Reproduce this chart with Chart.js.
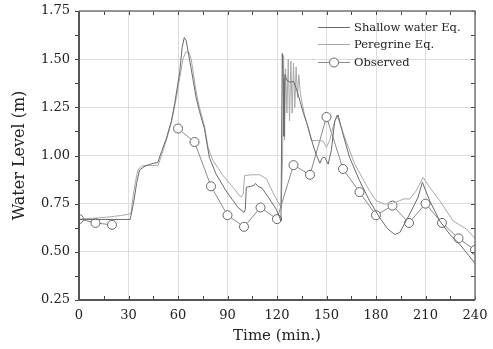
<!DOCTYPE html>
<html lang="en">
<head>
<meta charset="UTF-8" />
<title>Water Level</title>
<script src="https://cdn.jsdelivr.net/npm/chart.js"></script>
<style>
  html, body { margin: 0; padding: 0; background: #fff; }
  #wrap { width: 493px; height: 349px; position: relative; }
</style>
</head>
<body>
<div id="wrap"><canvas id="chart"></canvas></div>
<script>
// time (min.) and water level (m)
const shallowTime = [0, 10, 20, 31, 33, 35, 36.7, 40, 45, 47.7, 50, 53, 56, 58, 61, 62.5, 63.8, 65, 66.5, 68, 71, 73, 76, 79, 83, 89, 93, 96.4, 100, 100.8, 101.4, 104, 106, 107, 108.5, 111, 115, 119.6, 122.4, 123.2, 123.7, 124.2, 124.8, 126, 128, 130, 132, 134, 136, 138, 140, 142, 144, 146, 147.5, 149, 151, 153, 155, 157, 160, 164, 170, 176, 182, 187, 191.3, 194.4, 200.4, 205.5, 208.1, 212.5, 218.6, 224.6, 230.7, 240];
const shallowLevel = [0.668, 0.668, 0.668, 0.668, 0.75, 0.86, 0.925, 0.945, 0.96, 0.963, 1.02, 1.09, 1.18, 1.27, 1.43, 1.56, 1.612, 1.595, 1.52, 1.45, 1.30, 1.23, 1.14, 0.99, 0.905, 0.818, 0.77, 0.73, 0.705, 0.72, 0.835, 0.84, 0.845, 0.855, 0.84, 0.83, 0.78, 0.72, 0.66, 1.53, 1.40, 1.10, 1.42, 1.39, 1.38, 1.385, 1.34, 1.28, 1.22, 1.17, 1.11, 1.05, 1.0, 0.96, 0.99, 0.99, 0.955, 1.03, 1.18, 1.21, 1.11, 0.99, 0.87, 0.766, 0.68, 0.62, 0.59, 0.60, 0.696, 0.783, 0.861, 0.766, 0.661, 0.592, 0.54, 0.44];

const peregrineTime = [0, 10, 17, 25, 30, 31.5, 33, 35, 36, 38, 42, 46, 48, 50, 53, 56, 59, 61, 63, 64.7, 66.7, 68, 71, 73, 76.2, 78.2, 81.2, 87.3, 93.3, 97.4, 98.4, 99.5, 100.4, 105, 109.5, 113.6, 118, 122.5, 123.4, 124, 124.6, 125.2, 126, 126.8, 127.6, 128.4, 129.2, 130, 130.8, 131.6, 132.4, 133.2, 134.2, 135.5, 137, 139, 140.8, 144, 147.9, 150, 152, 154, 156.4, 158, 161, 167, 172, 176, 180, 185, 190, 194.4, 197, 200.4, 204.5, 208.5, 212.5, 218.6, 226.7, 234.8, 240];
const peregrineLevel = [0.67, 0.675, 0.68, 0.688, 0.695, 0.70, 0.80, 0.90, 0.93, 0.945, 0.95, 0.948, 0.95, 1.0, 1.08, 1.17, 1.30, 1.40, 1.50, 1.538, 1.535, 1.50, 1.33, 1.25, 1.147, 1.043, 0.974, 0.896, 0.835, 0.79, 0.786, 0.80, 0.896, 0.90, 0.90, 0.879, 0.80, 0.73, 1.0, 1.52, 1.08, 1.45, 1.22, 1.50, 1.18, 1.49, 1.22, 1.48, 1.25, 1.46, 1.30, 1.42, 1.32, 1.26, 1.20, 1.14, 1.078, 1.078, 1.075, 1.043, 1.08, 1.15, 1.21, 1.17, 1.095, 0.957, 0.879, 0.818, 0.766, 0.748, 0.75, 0.766, 0.775, 0.774, 0.818, 0.887, 0.835, 0.766, 0.661, 0.618, 0.57];

const observedTime = [0, 10, 20, 30, 40, 50, 60, 70, 80, 90, 100, 110, 120, 130, 140, 150, 160, 170, 180, 190, 200, 210, 220, 230, 240];
const observedLevel = [0.67, 0.65, 0.64, null, null, null, 1.14, 1.07, 0.84, 0.69, 0.63, 0.73, 0.67, 0.95, 0.90, 1.20, 0.93, 0.81, 0.69, 0.74, 0.65, 0.75, 0.65, 0.57, 0.51];

const seriesNames = ['Shallow water Eq.', 'Peregrine Eq.', 'Observed'];
const xTicks = [0, 30, 60, 90, 120, 150, 180, 210, 240];
const yTicks = [0.25, 0.50, 0.75, 1.00, 1.25, 1.50, 1.75];

const FONT = '"DejaVu Serif", "Liberation Serif", serif';

function toPoints(t, v) {
  return t.map((x, i) => ({ x: x, y: v[i] }));
}

// frame, minor ticks and legend like the original figure
const framePlugin = {
  id: 'frame',
  afterDraw(chart) {
    const { ctx, chartArea: a, scales } = chart;
    const xs = scales.x, ys = scales.y;
    ctx.save();
    // ticks
    ctx.strokeStyle = '#444';
    ctx.lineWidth = 1;
    for (let t = 0; t <= 240; t += 15) {
      const px = Math.round(xs.getPixelForValue(t)) + 0.5;
      ctx.beginPath(); ctx.moveTo(px, a.top); ctx.lineTo(px, a.top + 4); ctx.stroke();
      ctx.beginPath(); ctx.moveTo(px, a.bottom); ctx.lineTo(px, a.bottom - 4); ctx.stroke();
    }
    for (let v = 0.25; v <= 1.7501; v += 0.125) {
      const py = Math.round(ys.getPixelForValue(v)) + 0.5;
      ctx.beginPath(); ctx.moveTo(a.left, py); ctx.lineTo(a.left - 4, py); ctx.stroke();
      ctx.beginPath(); ctx.moveTo(a.right, py); ctx.lineTo(a.right - 4, py); ctx.stroke();
    }
    // frame
    ctx.strokeStyle = '#777';
    ctx.lineWidth = 1.5;
    ctx.beginPath();
    ctx.moveTo(a.left, a.top); ctx.lineTo(a.right, a.top); ctx.lineTo(a.right, a.bottom);
    ctx.stroke();
    ctx.strokeStyle = '#555';
    ctx.lineWidth = 2;
    ctx.beginPath();
    ctx.moveTo(a.left, a.top); ctx.lineTo(a.left, a.bottom); ctx.lineTo(a.right, a.bottom);
    ctx.stroke();

    // legend
    const lx = 318, tx = 354, rows = [27, 44, 62];
    ctx.font = '11.5px ' + FONT;
    ctx.textBaseline = 'middle';
    ctx.fillStyle = '#222';
    chart.data.datasets.forEach((ds, i) => {
      const y = rows[i];
      ctx.strokeStyle = ds.borderColor;
      ctx.lineWidth = 1;
      ctx.beginPath(); ctx.moveTo(lx, y + 0.5); ctx.lineTo(lx + 32, y + 0.5); ctx.stroke();
      if (ds.pointRadius > 0) {
        ctx.beginPath();
        ctx.arc(lx + 16, y + 0.5, ds.pointRadius, 0, Math.PI * 2);
        ctx.fillStyle = '#fff'; ctx.fill();
        ctx.strokeStyle = ds.pointBorderColor; ctx.stroke();
        ctx.fillStyle = '#222';
      }
      ctx.fillText(ds.label, tx, y + 1);
    });
    ctx.restore();
  }
};

const ctx = document.getElementById('chart').getContext('2d');
new Chart(ctx, {
  type: 'line',
  data: {
    datasets: [
      {
        label: seriesNames[0],
        data: toPoints(shallowTime, shallowLevel),
        borderColor: '#6a6a6a',
        borderWidth: 1,
        pointRadius: 0,
        tension: 0
      },
      {
        label: seriesNames[1],
        data: toPoints(peregrineTime, peregrineLevel),
        borderColor: '#a8a8a8',
        borderWidth: 1,
        pointRadius: 0,
        tension: 0
      },
      {
        label: seriesNames[2],
        data: toPoints(observedTime, observedLevel),
        borderColor: '#8a8a8a',
        borderWidth: 1,
        pointRadius: 4.5,
        pointBackgroundColor: '#fff',
        pointBorderColor: '#666',
        pointBorderWidth: 1,
        spanGaps: false,
        tension: 0
      }
    ]
  },
  options: {
    responsive: true,
    maintainAspectRatio: false,
    animation: false,
    layout: { padding: { top: 11, right: 18, left: 8, bottom: 0 } },
    plugins: { legend: { display: false }, tooltip: { enabled: false } },
    scales: {
      x: {
        type: 'linear',
        min: 0, max: 240,
        afterBuildTicks: s => { s.ticks = xTicks.map(v => ({ value: v })); },
        afterFit: s => { s.height = 49; s.paddingLeft = 0; s.paddingRight = 0; },
        grid: { color: '#dcdcdc', drawTicks: false },
        border: { display: false },
        ticks: { padding: 8, color: '#222', font: { family: FONT, size: 13 }, maxRotation: 0 },
        title: { display: true, text: 'Time (min.)', color: '#222', font: { family: FONT, size: 15 }, padding: { top: 4 } }
      },
      y: {
        min: 0.25, max: 1.75,
        afterBuildTicks: s => { s.ticks = yTicks.map(v => ({ value: v })); },
        afterFit: s => { s.width = 71; s.paddingTop = 0; s.paddingBottom = 0; },
        grid: { color: '#dcdcdc', drawTicks: false },
        border: { display: false },
        ticks: { padding: 9, color: '#222', font: { family: FONT, size: 13 }, callback: v => v.toFixed(2) },
        title: { display: true, text: 'Water Level (m)', color: '#222', font: { family: FONT, size: 16 }, padding: { top: 2, bottom: 4 } }
      }
    }
  },
  plugins: [framePlugin]
});
</script>
</body>
</html>
